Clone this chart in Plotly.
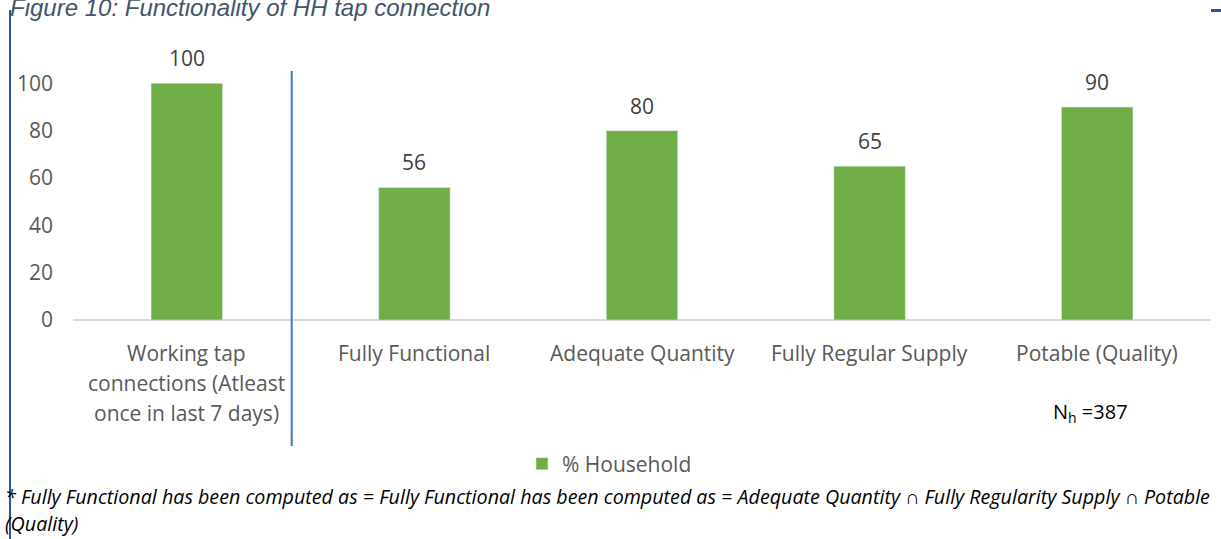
import plotly.graph_objects as go

categories = ["Working tap connections (Atleast once in last 7 days)", "Fully Functional",
              "Adequate Quantity", "Fully Regular Supply", "Potable (Quality)"]
label_lines = [["Working tap", "connections (Atleast", "once in last 7 days)"],
               ["Fully Functional"], ["Adequate Quantity"], ["Fully Regular Supply"],
               ["Potable (Quality)"]]
values = [100, 56, 80, 65, 90]
series_name = "% Household"
y_ticks = [0, 20, 40, 60, 80, 100]

GREEN = "#70AD47"
FONT = "Open Sans"
W, H = 1221, 539
L, R, T, B = 73, 10, 36, 219
pw, ph = W - L - R, H - T - B

def px_x(x):
    return (x - L) / pw

def px_y(y):
    return (H - B - y) / ph

fig = go.Figure()
fig.add_trace(go.Bar(x=categories, y=values, name=series_name, marker_color=GREEN,
                     width=0.314, showlegend=True))

ann = []
for c, v in zip(categories, values):
    ann.append(dict(x=c, y=v, xref="x", yref="y", text=str(v), showarrow=False,
                    yanchor="middle", yshift=25, font=dict(family=FONT, size=21, color="#404040")))
for c, lines in zip(categories, label_lines):
    for i, line in enumerate(lines):
        ann.append(dict(x=c, y=0, xref="x", yref="y", text=line, showarrow=False,
                        yanchor="middle", yshift=-33 - 30 * i,
                        font=dict(family=FONT, size=21, color="#595959")))
# Nh annotation
ann.append(dict(x=px_x(1090), y=px_y(412), xref="paper", yref="paper", text="N<sub>h</sub> =387",
                showarrow=False, xanchor="center", yanchor="middle",
                font=dict(family=FONT, size=20, color="#000000")))
# title (cut off at top)
ann.append(dict(x=px_x(8), y=px_y(7), xref="paper", yref="paper",
                text="<i>Figure 10: Functionality of HH tap connection</i>", showarrow=False,
                xanchor="left", yanchor="middle",
                font=dict(family="Liberation Sans", size=24, color="#44546A")))
# footnote
ann.append(dict(x=px_x(3), y=px_y(496), xref="paper", yref="paper",
                text="<i>* Fully Functional has been computed as = Fully Functional has been computed as = Adequate Quantity ∩ Fully Regularity Supply ∩ Potable</i>",
                showarrow=False, xanchor="left", yanchor="middle",
                font=dict(family=FONT, size=19.7, color="#000000")))
ann.append(dict(x=px_x(3), y=px_y(523), xref="paper", yref="paper",
                text="<i>(Quality)</i>", showarrow=False, xanchor="left", yanchor="middle",
                font=dict(family=FONT, size=19.7, color="#000000")))

shapes = [
    # divider
    dict(type="line", xref="paper", yref="paper", x0=px_x(291.7), x1=px_x(291.7),
         y0=px_y(71), y1=px_y(446), line=dict(color="#4472C4", width=2)),
    # left border line
    dict(type="line", xref="paper", yref="paper", x0=px_x(10), x1=px_x(10),
         y0=px_y(10), y1=px_y(539), line=dict(color="#2F5597", width=2)),
    # top-right dash
    dict(type="line", xref="paper", yref="paper", x0=px_x(1211), x1=px_x(1221),
         y0=px_y(10.5), y1=px_y(10.5), line=dict(color="#2F5597", width=3)),
]

fig.update_layout(
    width=W, height=H, margin=dict(l=L, r=R, t=T, b=B),
    plot_bgcolor="white", paper_bgcolor="white",
    bargap=0.686,
    xaxis=dict(showticklabels=False, showgrid=False, zeroline=False, showline=False,
               ticks=""),
    yaxis=dict(range=[0, 120], tickvals=y_ticks, showgrid=False, zeroline=True,
               zerolinecolor="#D9D9D9", zerolinewidth=1.5, showline=False, ticks="",
               ticklabelstandoff=19,
               tickfont=dict(family=FONT, size=21, color="#595959")),
    legend=dict(orientation="h", x=px_x(522), y=px_y(464), xanchor="left", yanchor="middle",
                font=dict(family=FONT, size=21, color="#595959"), itemwidth=30,
                bgcolor="rgba(0,0,0,0)"),
    annotations=ann, shapes=shapes,
)

fig.write_html("out.html", config={"displayModeBar": False},
               post_script="document.body.style.margin='0';document.body.style.overflow='hidden';")
